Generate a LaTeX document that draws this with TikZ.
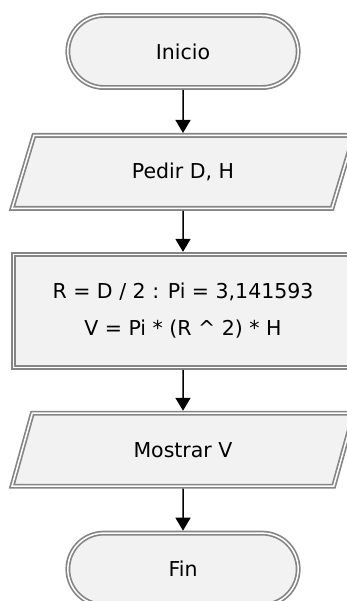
\documentclass[tikz,border=0pt]{standalone}
\usepackage{fontspec}
\setmainfont{DejaVu Sans}
\usetikzlibrary{shapes.geometric, shapes.misc, arrows.meta, positioning}
\definecolor{boxfill}{HTML}{F2F2F2}
\definecolor{boxline}{HTML}{858585}
\tikzstyle{border} = [draw=boxline, line width=1.7pt, double=white, double distance=1.5pt, fill=boxfill, outer sep=2.45pt, text=black, font=\fontsize{20.5}{37}\selectfont]
\tikzstyle{terminal} = [border, rounded rectangle, minimum width=237pt, minimum height=72pt]
\tikzstyle{io} = [border, trapezium, trapezium left angle=72, trapezium right angle=108, trapezium stretches=true, minimum width=342pt, minimum height=73pt]
\tikzstyle{process} = [border, rectangle, minimum width=339pt, minimum height=113pt, align=center]
\tikzstyle{arrow} = [line width=1.5pt, -{Triangle[length=13pt,width=15pt]}]

\begin{document}
\begin{tikzpicture}
    \useasboundingbox (0,0) rectangle (346pt,-601pt);
    \node (inicio) [terminal] at (183pt,-51.5pt) {Inicio};
    \node (pedir) [io, below=43pt of inicio] {Pedir D, H};
    \node (calculo) [process, below=41pt of pedir] {R = D / 2 : Pi = 3,141593\\V = Pi * (R \^{} 2) * H};
    \node (mostrar) [io, below=41pt of calculo] {Mostrar V};
    \node (fin) [terminal, below=42pt of mostrar] {Fin};
    \draw [arrow] (inicio) -- (pedir);
    \draw [arrow] (pedir) -- (calculo);
    \draw [arrow] (calculo) -- (mostrar);
    \draw [arrow] (mostrar) -- (fin);
\end{tikzpicture}
\end{document}
